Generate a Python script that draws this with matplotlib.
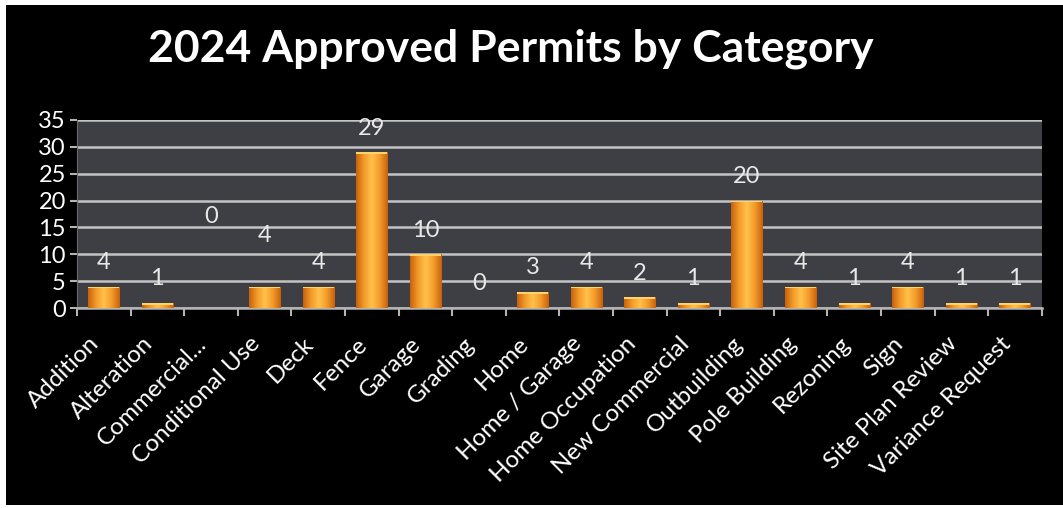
import numpy as np
import matplotlib.pyplot as plt
from matplotlib.patches import Rectangle
from matplotlib.colors import LinearSegmentedColormap
from matplotlib.transforms import ScaledTranslation

categories = ["Addition", "Alteration", "Commercial...", "Conditional Use", "Deck",
              "Fence", "Garage", "Grading", "Home", "Home / Garage",
              "Home Occupation", "New Commercial", "Outbuilding", "Pole Building",
              "Rezoning", "Sign", "Site Plan Review", "Variance Request"]
permits = [4, 1, 0, 4, 4, 29, 10, 0, 3, 4, 2, 1, 20, 4, 1, 4, 1, 1]
y_ticks = [0, 5, 10, 15, 20, 25, 30, 35]

# the source chart's labels float a bit oddly on two categories
label_nudge = {"Commercial...": 12.5, "Conditional Use": 5.0}

plt.rcParams["font.family"] = ["Lato", "DejaVu Sans"]

fig = plt.figure(figsize=(10.63, 5.08), dpi=100, facecolor="white")
fig.patches.append(Rectangle((0.0056, 0.006), 1.0, 0.984, transform=fig.transFigure,
                             facecolor="black", edgecolor="none", zorder=-10))

ax = fig.add_axes([0.0724, 0.3937, 0.9076, 0.3701])
ax.set_facecolor("#3d3f44")

x = np.arange(len(categories))
bars = ax.bar(x, permits, width=0.58, color="#ee8a1a", edgecolor="none", zorder=3)

# horizontal gradient inside each bar for the glossy look
grad = np.linspace(0, 1, 64)
grad = 1 - np.abs(grad - 0.5) * 2
grad = np.vstack([grad, grad])
cmap = LinearSegmentedColormap.from_list("bar", ["#c8620c", "#f39a2a", "#ffc04a"])
for b in bars:
    h = b.get_height()
    if h <= 0:
        continue
    x0, w = b.get_x(), b.get_width()
    im = ax.imshow(grad, cmap=cmap, extent=(x0, x0 + w, 0, h), aspect="auto",
                   zorder=4, interpolation="bilinear")
    im.set_clip_path(b)
    ax.add_patch(Rectangle((x0, h - 0.35), w, 0.35, facecolor="#ffd36a",
                           edgecolor="none", zorder=5))

for xi, cat, v in zip(x, categories, permits):
    ax.text(xi, v + 4.5 + label_nudge.get(cat, 0), str(v), ha="center", va="center",
            color="#e8e8e8", fontsize=17, zorder=6)

ax.set_xlim(-0.5, len(categories) - 0.5)
ax.set_ylim(0, 35)
ax.set_yticks(y_ticks)
ax.set_yticklabels([str(t) for t in y_ticks], color="white", fontsize=17)
ax.yaxis.grid(True, color="#c4c4c4", linewidth=1.8, zorder=1)
ax.set_axisbelow(True)

ax.set_xticks(x)
ax.set_xticklabels(categories, rotation=45, ha="right", rotation_mode="anchor",
                   color="white", fontsize=17.5)
ax.tick_params(axis="x", which="major", length=0, pad=18)
shift = ScaledTranslation(-15 / 100, 0, fig.dpi_scale_trans)
for lbl in ax.get_xticklabels():
    lbl.set_transform(lbl.get_transform() + shift)
ax.set_xticks(np.arange(-0.5, len(categories), 1.0), minor=True)
ax.tick_params(axis="x", which="minor", length=6, width=1.5, color="#b4b4b4")
ax.tick_params(axis="y", length=5, width=1.5, color="#b4b4b4", pad=3)

for s in ["top", "right"]:
    ax.spines[s].set_visible(False)
ax.spines["left"].set_color("#6a6a6a")
ax.spines["bottom"].set_color("#b4b4b4")
ax.spines["bottom"].set_linewidth(1.8)

fig.text(0.481, 0.905, "2024 Approved Permits by Category", ha="center", va="center",
         color="white", fontsize=32, fontweight="bold")

fig.savefig("out.png", dpi=100, facecolor="white")
